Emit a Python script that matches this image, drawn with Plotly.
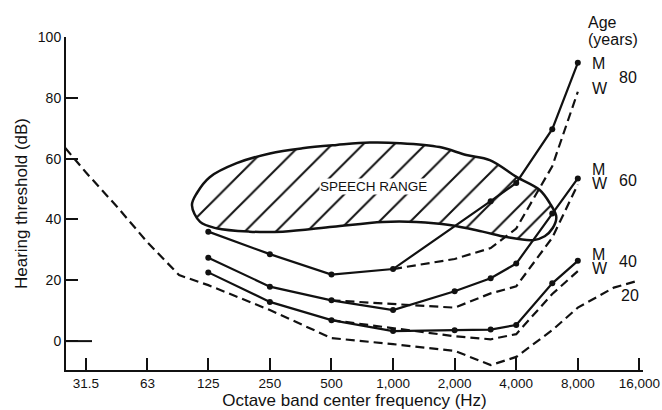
import math
import plotly.graph_objects as go

# ---------------- data ----------------
tick_freqs = [31.5, 63, 125, 250, 500, 1000, 2000, 4000, 8000, 16000]
tick_labels = ["31.5", "63", "125", "250", "500", "1,000", "2,000", "4,000", "8,000", "16,000"]
y_ticks = [0, 20, 40, 60, 80, 100]

freq_m = [125, 250, 500, 1000, 2000, 3000, 4000, 6000, 8000]
men_40 = [22.6, 12.9, 6.9, 3.3, 3.6, 3.8, 5.3, 19.0, 26.4]
men_60 = [27.4, 17.9, 13.4, 10.2, 16.4, 20.7, 25.5, 42.0, 53.5]
freq_m80 = [125, 250, 500, 1000, 3000, 4000, 6000, 8000]
men_80 = [36.0, 28.6, 21.9, 23.7, 46.0, 52.0, 69.7, 91.5]

freq_w = [500, 1000, 2000, 3000, 4000, 6000, 8000]
women_40 = [6.9, 4.2, 1.6, 0.6, 2.3, 15.5, 23.0]
women_60 = [13.4, 12.2, 11.0, 15.7, 18.0, 34.0, 51.5]
freq_w80 = [1000, 2000, 3000, 4000, 6000, 8000]
women_80 = [23.7, 27.0, 30.6, 37.0, 57.5, 82.0]

freq_20 = [25, 31.5, 45, 63, 90, 125, 250, 500, 1000, 2000, 3000, 4000, 6000, 8000, 12000, 16000]
age_20 = [63.5, 55.5, 44.0, 32.5, 21.7, 18.4, 10.2, 1.0, -1.0, -3.2, -7.9, -5.2, 3.6, 11.0, 17.6, 20.0]

speech_freq = [104, 110, 127, 172, 250, 360, 530, 770, 1080, 1690, 2280, 2970, 4010, 5210,
               5830, 6280, 6030, 5510, 4820, 3590, 2740, 1890, 1300, 890, 508, 289, 199, 137, 114, 104]
speech_db = [44.7, 48.7, 53.9, 58.5, 61.7, 63.4, 64.5, 65.3, 65.1, 63.8, 61.2, 59.5, 54.0, 49.7,
             45.4, 40.8, 37.2, 34.5, 33.2, 34.2, 36.0, 38.2, 39.2, 39.2, 37.6, 36.0, 36.0, 37.1, 39.2, 44.7]

# ---------------- styling ----------------
FONT = "Liberation Sans, Arial, Helvetica, sans-serif"
BLACK = "#111111"
DASH = "9px,5px"

fig = go.Figure()

# speech range (hatched blob)
fig.add_trace(go.Scatter(
    x=speech_freq, y=speech_db, mode="lines", line=dict(color=BLACK, width=2.5, shape="spline", smoothing=1.0),
    fill="toself", fillcolor="white",
    fillpattern=dict(shape="/", fgcolor=BLACK, bgcolor="white", size=22, solidity=0.09),
    hoverinfo="skip", showlegend=False))

def solid(xs, ys):
    fig.add_trace(go.Scatter(x=xs, y=ys, mode="lines+markers",
                             line=dict(color=BLACK, width=2.2),
                             marker=dict(color=BLACK, size=6),
                             showlegend=False))

def dashed(xs, ys):
    fig.add_trace(go.Scatter(x=xs, y=ys, mode="lines",
                             line=dict(color=BLACK, width=2.2, dash=DASH),
                             showlegend=False))

dashed(freq_20, age_20)
dashed(freq_w, women_40)
dashed(freq_w, women_60)
dashed(freq_w80, women_80)
solid(freq_m, men_40)
solid(freq_m, men_60)
solid(freq_m80, men_80)

# ---------------- layout ----------------
W, H = 662, 410
L, R, T, B = 66, 19, 37, 40
pw, ph = W - L - R, H - T - B

def px_x(px):
    return (px - L) / pw

def px_y(py):
    return (H - B - py) / ph

anns = []
def lab(text, x, y, size, xanchor="center", height=None):
    a = dict(text=text, x=px_x(x), y=px_y(y), xref="paper", yref="paper",
             showarrow=False, xanchor=xanchor, yanchor="middle",
             font=dict(family=FONT, size=size, color=BLACK))
    if height:
        a["height"] = height
        a["borderpad"] = 0
    anns.append(a)

lab("Age", 586, 22.7, 16, "left")
lab("(years)", 586, 39.3, 16, "left")
lab("M", 598.3, 63.3, 16)
lab("W", 600, 88.3, 16)
lab("80", 628.3, 77.3, 16)
lab("M", 598.3, 169.5, 16, height=13)
lab("W", 600, 183.0, 16, height=13)
lab("60", 628.3, 180, 16)
lab("M", 598.3, 254.5, 16, height=13)
lab("W", 600, 268.0, 16, height=13)
lab("40", 628.3, 261.7, 16)
lab("20", 630, 295, 16)

anns.append(dict(text="SPEECH RANGE", x=math.log10(800), y=51, xref="x", yref="y",
                 showarrow=False, bgcolor="white", borderpad=0,
                 font=dict(family=FONT, size=13.5, color=BLACK)))

fig.update_layout(
    width=W, height=H, template="none",
    margin=dict(l=L, r=R, t=T, b=B, autoexpand=False),
    paper_bgcolor="white", plot_bgcolor="white",
    font=dict(family=FONT, color=BLACK),
    showlegend=False,
    annotations=anns,
    shapes=[dict(type="line", xref="paper", yref="y", x0=0, x1=26 / pw, y0=0, y1=0,
                 line=dict(color=BLACK, width=2))],
    xaxis=dict(type="log", range=[math.log10(25.2), math.log10(16660)],
               tickvals=tick_freqs, ticktext=tick_labels,
               ticks="inside", ticklen=12, tickwidth=2, tickcolor=BLACK,
               showline=True, linewidth=2, linecolor=BLACK, mirror=False,
               showgrid=False, zeroline=False,
               tickfont=dict(family=FONT, size=13.5, color=BLACK),
               title=dict(text="Octave band center frequency (Hz)", standoff=4,
                          font=dict(family=FONT, size=17, color=BLACK))),
    yaxis=dict(range=[-9.5, 100], tickvals=y_ticks,
               ticks="inside", ticklen=12, tickwidth=2, tickcolor=BLACK,
               showline=True, linewidth=2, linecolor=BLACK, mirror=False,
               showgrid=False, zeroline=False,
               tickfont=dict(family=FONT, size=14, color=BLACK),
               title=dict(text="Hearing threshold (dB)", standoff=6,
                          font=dict(family=FONT, size=17, color=BLACK))),
)

fig.write_html("out.html", config={"displayModeBar": False},
               post_script="document.body.style.margin='0px';")
